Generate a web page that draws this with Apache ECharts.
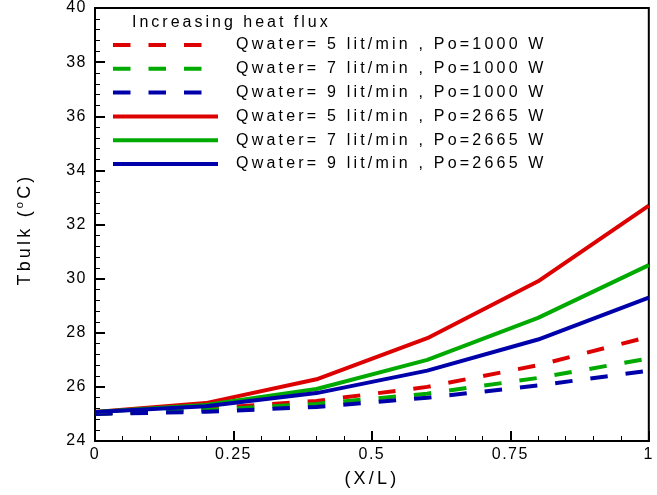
<!DOCTYPE html>
<html><head><meta charset="utf-8">
<script src="https://cdn.jsdelivr.net/npm/echarts@6/dist/echarts.min.js"></script>
<style>html,body{margin:0;padding:0;background:#fff}#c{width:657px;height:495px}</style>
</head><body><div id="c"></div>
<script>
// ---- data ----
const xPos = [0, 0.2, 0.4, 0.6, 0.8, 1.0];
const seriesNames = [
  'Qwater= 5 lit/min , Po=1000 W',
  'Qwater= 7 lit/min , Po=1000 W',
  'Qwater= 9 lit/min , Po=1000 W',
  'Qwater= 5 lit/min , Po=2665 W',
  'Qwater= 7 lit/min , Po=2665 W',
  'Qwater= 9 lit/min , Po=2665 W'
];
const q5p1000 = [25.0, 25.2, 25.48, 26.0, 26.8, 27.85];
const q7p1000 = [25.0, 25.15, 25.37, 25.75, 26.33, 27.05];
const q9p1000 = [25.0, 25.08, 25.26, 25.6, 26.05, 26.6];
const q5p2665 = [25.07, 25.4, 26.28, 27.8, 29.9, 32.7];
const q7p2665 = [25.07, 25.33, 25.92, 27.0, 28.55, 30.5];
const q9p2665 = [25.07, 25.28, 25.77, 26.6, 27.75, 29.3];
const legendTitle = 'Increasing heat flux';
const xAxisName = '(X/L)';
const yTicks = [24, 26, 28, 30, 32, 34, 36, 38, 40];
const xTicks = [0, 0.25, 0.5, 0.75, 1];

const values = [q5p1000, q7p1000, q9p1000, q5p2665, q7p2665, q9p2665];
const colors = ['#dd0000', '#00aa00', '#0000aa', '#dd0000', '#00aa00', '#0000aa'];
const dashed = [true, true, true, false, false, false];

// ---- letter spacing support (the reference text is widely tracked) ----
// A pseudo family name "lsNN" in a font string means NN/10 px of letter spacing.
(function () {
  const proto = CanvasRenderingContext2D.prototype;
  const origFill = proto.fillText;
  const spacingOf = f => { const m = /ls(\d+)/.exec(f || ''); return m ? (+m[1]) / 10 : 0; };
  proto.fillText = function (t, x, y, w) {
    const sp = spacingOf(this.font);
    const prev = this.letterSpacing;
    if ('letterSpacing' in this) this.letterSpacing = sp + 'px';
    const r = w === undefined ? origFill.call(this, t, x, y) : origFill.call(this, t, x, y, w);
    if ('letterSpacing' in this) this.letterSpacing = prev;
    return r;
  };
  const mctx = document.createElement('canvas').getContext('2d');
  echarts.setPlatformAPI({
    measureText: function (text, font) {
      mctx.font = font || '12px sans-serif';
      if ('letterSpacing' in mctx) mctx.letterSpacing = '0px';
      const w = mctx.measureText(text).width;
      const s = String(text);
      // '国' is used internally as a line-height probe: keep it unspaced
      const sp = ('letterSpacing' in mctx && s !== '国') ? spacingOf(font) : 0;
      return {width: w + sp * s.length};
    }
  });
})();

const fontWide = 'Arial, ls32, sans-serif';
const fontTick = 'Arial, ls15, sans-serif';

const chart = echarts.init(document.getElementById('c'), null, {renderer: 'canvas'});

chart.setOption({
  animation: false,
  backgroundColor: '#fff',
  textStyle: {fontFamily: fontTick, color: '#000'},
  title: {
    text: legendTitle, left: 132, top: 15, padding: 0,
    textStyle: {fontSize: 16, fontWeight: 'normal', color: '#000', fontFamily: 'Arial, ls30, sans-serif'}
  },
  legend: {
    orient: 'vertical', left: 111, top: 37, padding: 0,
    itemWidth: 105, itemHeight: 16, itemGap: 7.8,
    itemStyle: {opacity: 0},
    lineStyle: {width: 4},
    textStyle: {fontSize: 16, lineHeight: 16, color: '#000', fontFamily: fontWide, padding: [0, 0, 0, 13]},
    data: seriesNames
  },
  grid: {left: 95, right: 2, top: 8, bottom: 54, show: true, borderColor: '#000', borderWidth: 2},
  xAxis: {
    type: 'value', min: xTicks[0], max: xTicks[xTicks.length - 1], interval: 0.25,
    name: xAxisName, nameLocation: 'middle', nameGap: 29,
    nameTextStyle: {fontSize: 18, color: '#000', fontFamily: fontWide},
    axisLine: {lineStyle: {color: '#000', width: 2}},
    axisTick: {inside: true, length: 10, lineStyle: {color: '#000', width: 2}},
    minorTick: {show: true, splitNumber: 5, length: 5, lineStyle: {color: '#000', width: 1}},
    splitLine: {show: false},
    axisLabel: {fontSize: 16, color: '#000', margin: 6, fontFamily: fontTick,
      formatter: v => String(v)}
  },
  yAxis: {
    type: 'value', min: yTicks[0], max: yTicks[yTicks.length - 1], interval: 2,
    name: '{a|Tbulk (}{s|o}{a|C)}', nameLocation: 'middle', nameGap: 59, nameRotate: 90,
    nameTextStyle: {fontSize: 18, color: '#000', fontFamily: fontWide, padding: [0, 10, 0, 0],
      rich: {
        a: {fontSize: 18, color: '#000', fontFamily: fontWide, lineHeight: 22},
        s: {fontSize: 11, color: '#000', fontFamily: fontWide, lineHeight: 22, verticalAlign: 'top', padding: [0, 0, 10, 0]}
      }},
    axisLine: {lineStyle: {color: '#000', width: 2}},
    axisTick: {inside: true, length: 10, lineStyle: {color: '#000', width: 2}},
    minorTick: {show: true, splitNumber: 5, length: 5, lineStyle: {color: '#000', width: 1}},
    splitLine: {show: false},
    axisLabel: {fontSize: 16, color: '#000', margin: 8, fontFamily: fontTick}
  },
  series: seriesNames.map((n, i) => ({
    name: n, type: 'line', symbol: 'none', showSymbol: false,
    data: xPos.map((x, j) => [x, values[i][j]]),
    lineStyle: {color: colors[i], width: 4, type: dashed[i] ? [17.5, 18] : 'solid', cap: 'butt'},
    itemStyle: {color: colors[i]},
    z: dashed[i] ? 2 : 3
  }))
});
</script></body></html>
